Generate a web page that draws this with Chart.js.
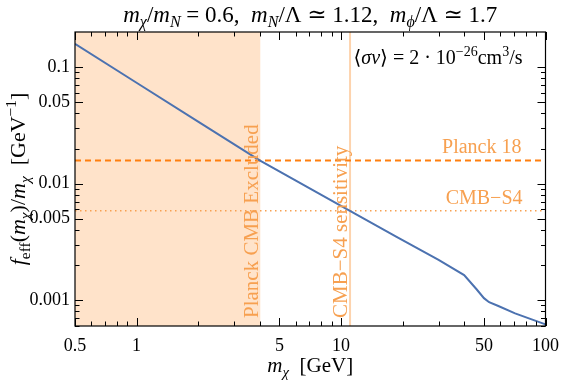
<!DOCTYPE html>
<html>
<head>
<meta charset="utf-8">
<script src="https://cdn.jsdelivr.net/npm/chart.js@4/dist/chart.umd.min.js"></script>
<style>
html,body{margin:0;padding:0;background:#fff;}
#wrap{width:568px;height:382px;}
</style>
</head>
<body>
<div id="wrap"><canvas id="c" width="568" height="382"></canvas></div>
<script>
// ---- data ----
const massGeV    = [0.5, 1, 2, 4, 11, 18.6, 30, 40, 46, 50, 53, 58.8, 71, 100];
const fEffOverM  = [0.158, 0.0734, 0.0341, 0.0158, 0.00586, 0.0035, 0.00222, 0.00164, 0.00124, 0.00104, 0.00096, 0.00089, 0.00077, 0.00062];
const planckLimit = [0.0158];
const cmbS4Limit  = [0.00586];
const excludedMassRange = [0.5, 4.04];
const cmbS4Mass = [11.07];
const xTickLabels = [0.5, 1, 5, 10, 50, 100];
const yTickLabels = [0.001, 0.005, 0.01, 0.05, 0.1];
const xMinorTicks = [0.6,0.7,0.8,0.9,2,3,4,6,7,8,9,20,30,40,60,70,80,90];
const yMinorTicks = [0.0006,0.0007,0.0008,0.0009,0.002,0.003,0.004,0.006,0.007,0.008,0.009,0.02,0.03,0.04,0.06,0.07,0.08,0.09];
const xRange = [0.5, 100];
const yRange = [0.0006, 0.2];

// ---- styles ----
const FONT = '"Liberation Serif", "DejaVu Serif", serif';
const ORANGE = '#ff7f0e';
const ORANGE_TXT = '#f7a050';
const PEACH = '#ffe3ca';
const PEACH_LINE = '#fdd3ad';
const BLUE = '#4c72b0';

function drawRich(ctx, segs, x, y, size, align, color) {
  const parts = segs.map(s => {
    const st = s[1] || '';
    const small = st.includes('s') || st.includes('p');
    const fs = small ? size * 0.7 : size;
    const font = (st.includes('i') ? 'italic ' : '') + fs + 'px ' + FONT;
    ctx.font = font;
    return {t: s[0], font, w: ctx.measureText(s[0]).width,
            dy: st.includes('s') ? size * 0.22 : (st.includes('p') ? -size * 0.4 : 0)};
  });
  const total = parts.reduce((a, p) => a + p.w, 0);
  let cx = align === 'center' ? x - total / 2 : (align === 'right' ? x - total : x);
  ctx.fillStyle = color;
  ctx.textAlign = 'left';
  ctx.textBaseline = 'alphabetic';
  for (const p of parts) {
    ctx.font = p.font;
    ctx.fillText(p.t, cx, y + p.dy);
    cx += p.w;
  }
}

const decorPlugin = {
  id: 'decor',
  afterDatasetsDraw(chart) {
    const {ctx, chartArea: ca, scales: {x, y}} = chart;
    ctx.save();
    // rotated labels
    ctx.save();
    ctx.translate(x.getPixelForValue(excludedMassRange[1]) - 3, 318);
    ctx.rotate(-Math.PI / 2);
    drawRich(ctx, [['Planck CMB Excluded']], 0, 0, 21, 'left', ORANGE_TXT);
    ctx.restore();
    ctx.save();
    ctx.translate(x.getPixelForValue(cmbS4Mass[0]) - 3, 318);
    ctx.rotate(-Math.PI / 2);
    drawRich(ctx, [['CMB\u2212S4 sensitivity']], 0, 0, 21, 'left', ORANGE_TXT);
    ctx.restore();
    // horizontal line labels
    drawRich(ctx, [['Planck 18']], ca.right - 24, y.getPixelForValue(planckLimit[0]) - 7, 20, 'right', ORANGE_TXT);
    drawRich(ctx, [['CMB\u2212S4']], ca.right - 23, y.getPixelForValue(cmbS4Limit[0]) - 7, 20, 'right', ORANGE_TXT);
    // annotation
    drawRich(ctx, [['\u27E8'], ['\u03C3', 'i'], ['v', 'i'], ['\u27E9 = 2 \u00B7 10'], ['\u221226', 'p'], ['cm'], ['3', 'p'], ['/s']],
      ca.right - 23, 64, 20, 'right', '#000');

    // frame
    ctx.strokeStyle = '#000';
    ctx.lineWidth = 1.2;
    ctx.strokeRect(ca.left, ca.top, ca.right - ca.left, ca.bottom - ca.top);
    // ticks
    ctx.lineWidth = 1;
    const tick = (px, len, horiz) => {
      ctx.beginPath();
      if (horiz) {
        ctx.moveTo(px, ca.bottom); ctx.lineTo(px, ca.bottom - len);
        ctx.moveTo(px, ca.top); ctx.lineTo(px, ca.top + len);
      } else {
        ctx.moveTo(ca.left, px); ctx.lineTo(ca.left + len, px);
        ctx.moveTo(ca.right, px); ctx.lineTo(ca.right - len, px);
      }
      ctx.stroke();
    };
    xTickLabels.forEach(v => tick(Math.round(x.getPixelForValue(v)) + 0.5, 8, true));
    xMinorTicks.forEach(v => tick(Math.round(x.getPixelForValue(v)) + 0.5, 4.5, true));
    yTickLabels.forEach(v => tick(Math.round(y.getPixelForValue(v)) + 0.5, 8, false));
    yMinorTicks.forEach(v => tick(Math.round(y.getPixelForValue(v)) + 0.5, 4.5, false));

    // title
    drawRich(ctx, [['m', 'i'], ['\u03C7', 'is'], ['/'], ['m', 'i'], ['N', 'is'], [' = 0.6,  '], ['m', 'i'], ['N', 'is'],
      ['/\u039B \u2243 1.12,  '], ['m', 'i'], ['\u03D5', 'is'], ['/\u039B \u2243 1.7']],
      (ca.left + ca.right) / 2, 22, 23, 'center', '#000');
    // x title
    drawRich(ctx, [['m', 'i'], ['\u03C7', 'is'], ['  [GeV]']], (ca.left + ca.right) / 2, 372, 21, 'center', '#000');
    // y title
    ctx.save();
    ctx.translate(25, (ca.top + ca.bottom) / 2);
    ctx.rotate(-Math.PI / 2);
    drawRich(ctx, [['f', 'i'], ['eff', 's'], ['('], ['m', 'i'], ['\u03C7', 'is'], [')/'], ['m', 'i'], ['\u03C7', 'is'], ['  [GeV'], ['\u22121', 'p'], [']']],
      0, 0, 22, 'center', '#000');
    ctx.restore();
    ctx.restore();
  }
};

const pts = (xs, ys) => xs.map((v, i) => ({x: v, y: ys[i]}));

new Chart(document.getElementById('c'), {
  type: 'scatter',
  data: {
    datasets: [
      {data: [{x: excludedMassRange[0], y: yRange[1]}, {x: excludedMassRange[1], y: yRange[1]}],
       showLine: true, fill: 'start', backgroundColor: PEACH, borderWidth: 0, pointRadius: 0, order: 10},
      {data: [{x: cmbS4Mass[0], y: yRange[0]}, {x: cmbS4Mass[0], y: yRange[1]}],
       showLine: true, borderColor: PEACH_LINE, borderWidth: 2, pointRadius: 0, order: 9},
      {data: [{x: xRange[0], y: planckLimit[0]}, {x: xRange[1], y: planckLimit[0]}],
       showLine: true, borderColor: ORANGE, borderWidth: 2, borderDash: [6, 4], pointRadius: 0, order: 5},
      {data: [{x: xRange[0], y: cmbS4Limit[0]}, {x: xRange[1], y: cmbS4Limit[0]}],
       showLine: true, borderColor: ORANGE_TXT, borderWidth: 1.5, borderDash: [1.5, 3.5], pointRadius: 0, order: 5},
      {data: pts(massGeV, fEffOverM),
       showLine: true, borderColor: BLUE, borderWidth: 2, pointRadius: 0, tension: 0, order: 1}
    ]
  },
  options: {
    responsive: false,
    animation: false,
    layout: {padding: {top: 32, right: 17, left: 0, bottom: 0}},
    plugins: {legend: {display: false}, tooltip: {enabled: false}},
    scales: {
      x: {
        type: 'logarithmic', min: xRange[0], max: xRange[1],
        grid: {display: false, drawTicks: false}, border: {display: false},
        afterBuildTicks: s => { s.ticks = xTickLabels.map(v => ({value: v})); },
        afterFit: s => { s.height = 382 - 326; },
        ticks: {autoSkip: false, maxRotation: 0, padding: 9, color: '#000',
                font: {family: FONT, size: 18}, callback: v => String(v)}
      },
      y: {
        type: 'logarithmic', min: yRange[0], max: yRange[1],
        grid: {display: false, drawTicks: false}, border: {display: false},
        afterBuildTicks: s => { s.ticks = yTickLabels.map(v => ({value: v})); },
        afterFit: s => { s.width = 75; },
        ticks: {autoSkip: false, padding: 5, color: '#000',
                font: {family: FONT, size: 18}, callback: v => String(v)}
      }
    }
  },
  plugins: [decorPlugin]
});
</script>
</body>
</html>
